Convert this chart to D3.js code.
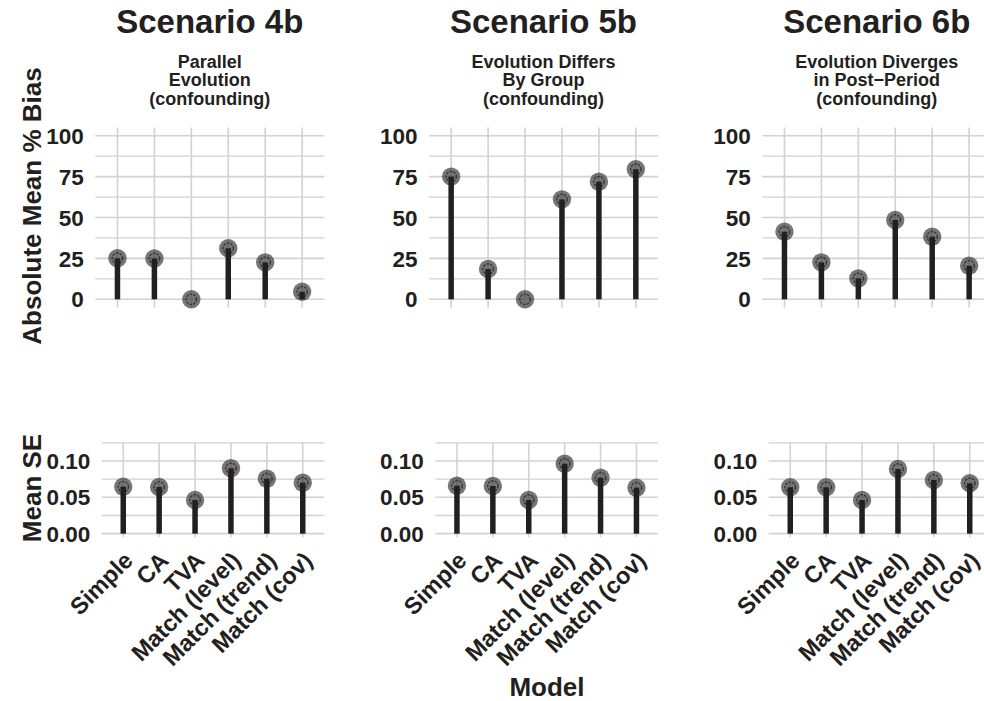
<!DOCTYPE html>
<html>
<head>
<meta charset="utf-8">
<script src="https://cdn.jsdelivr.net/npm/d3@7"></script>
<style>
body { margin: 0; background: #fff; }
svg { display: block; font-family: "Liberation Sans", Arial, Helvetica, sans-serif; font-weight: bold; }
</style>
</head>
<body>
<svg id="chart" width="984" height="701"></svg>
<script>
// models on the x axis
var models = ["Simple", "CA", "TVA", "Match (level)", "Match (trend)", "Match (cov)"];
var scenarios = ["Scenario 4b", "Scenario 5b", "Scenario 6b"];
var subtitles = [
	["Parallel", "Evolution", "(confounding)"],
	["Evolution Differs", "By Group", "(confounding)"],
	["Evolution Diverges", "in Post\u2212Period", "(confounding)"]
];

// absolute mean % bias, one array per scenario
var bias4b = [25.1, 25.0, 0, 31.2, 22.6, 4.6];
var bias5b = [75.0, 18.5, 0, 61.1, 71.9, 79.5];
var bias6b = [41.3, 22.6, 12.8, 48.5, 38.3, 20.5];

// mean SE
var se4b = [0.0647, 0.0642, 0.0464, 0.0900, 0.0757, 0.0702];
var se5b = [0.0660, 0.0656, 0.0464, 0.0963, 0.0770, 0.0633];
var se6b = [0.0638, 0.0638, 0.0464, 0.0890, 0.0739, 0.0693];

var biasTicks = [0, 25, 50, 75, 100];
var biasMinor = [12.5, 37.5, 62.5, 87.5];
var seTicks = [0, 0.05, 0.10];
var seMinor = [0.025, 0.075, 0.125];

var biasData = [bias4b, bias5b, bias6b];
var seData = [se4b, se5b, se6b];

var svg = d3.select("#chart");
var textCol = "#231f20";
var gridCol = "#d2d2d2";

// column layout (left edge of top panels)
var colLeft = [95.3, 429, 762.3];
var panelW = 229;

function drawPanel(left, right, yDomain, yRange, values, ticks, minor, fmt){
	var g = svg.append("g");
	var x = d3.scalePoint().domain(models).range([left, right]).padding(0.6);
	var y = d3.scaleLinear().domain(yDomain).range(yRange);

	// minor + major gridlines
	g.selectAll(".minor").data(minor).enter().append("line")
		.attr("x1", left).attr("x2", right)
		.attr("y1", function(d){ return y(d); }).attr("y2", function(d){ return y(d); })
		.attr("stroke", gridCol).attr("stroke-width", 1.3);
	g.selectAll(".major").data(ticks).enter().append("line")
		.attr("x1", left).attr("x2", right)
		.attr("y1", function(d){ return y(d); }).attr("y2", function(d){ return y(d); })
		.attr("stroke", gridCol).attr("stroke-width", 1.6);
	g.selectAll(".vgrid").data(models).enter().append("line")
		.attr("x1", function(d){ return x(d); }).attr("x2", function(d){ return x(d); })
		.attr("y1", yRange[1]).attr("y2", yRange[0])
		.attr("stroke", gridCol).attr("stroke-width", 1.6);

	// y tick labels
	g.selectAll(".ytick").data(ticks).enter().append("text")
		.attr("x", left - 11.5)
		.attr("y", function(d){ return y(d); })
		.attr("dy", "0.36em")
		.attr("text-anchor", "end")
		.attr("font-size", 22.5)
		.attr("fill", textCol)
		.text(fmt);

	// points (gray, semi transparent) then bars on top
	var pts = g.selectAll(".pt").data(values).enter().append("g");
	pts.append("circle")
		.attr("cx", function(d, i){ return x(models[i]); })
		.attr("cy", function(d){ return y(d); })
		.attr("r", 9.2)
		.attr("fill", "#3c3c3c").attr("fill-opacity", 0.7);
	pts.append("circle")
		.attr("cx", function(d, i){ return x(models[i]); })
		.attr("cy", function(d){ return y(d); })
		.attr("r", 5.2)
		.attr("fill", "none").attr("stroke", "#222").attr("stroke-width", 1.4)
		.attr("stroke-dasharray", "2.5,1.2").attr("stroke-opacity", 0.75);

	g.selectAll(".bar").data(values).enter().append("line")
		.attr("x1", function(d, i){ return x(models[i]); })
		.attr("x2", function(d, i){ return x(models[i]); })
		.attr("y1", y(0))
		.attr("y2", function(d){ return y(d); })
		.attr("stroke", textCol).attr("stroke-width", 5.5);

	return x;
}

for(var c=0;c<3;c++){
	var left = colLeft[c];
	var right = left + panelW;

	// scenario title
	svg.append("text")
		.attr("x", (left + right) / 2).attr("y", 33)
		.attr("text-anchor", "middle")
		.attr("font-size", 33).attr("fill", textCol)
		.text(scenarios[c]);
	// subtitle lines
	for(var l=0;l<subtitles[c].length;l++){
		svg.append("text")
			.attr("x", (left + right) / 2).attr("y", 68 + l*18.3)
			.attr("text-anchor", "middle")
			.attr("font-size", 18).attr("fill", textCol)
			.text(subtitles[c][l]);
	}

	drawPanel(left, right, [-5, 105], [307.5, 127.5], biasData[c], biasTicks, biasMinor, function(d){ return d; });
	var xb = drawPanel(left + 6.4, right, [-0.005, 0.125], [537.3, 442.8], seData[c], seTicks, seMinor, d3.format(".2f"));

	// rotated model labels
	svg.append("g").selectAll("text").data(models).enter().append("text")
		.attr("transform", function(d){ return "translate(" + (xb(d) - 1) + ",550) rotate(-45)"; })
		.attr("dy", "0.72em")
		.attr("text-anchor", "end")
		.attr("font-size", 23.5).attr("fill", textCol)
		.text(function(d){ return d; });
}

// axis titles
svg.append("text")
	.attr("transform", "translate(41,206) rotate(-90)")
	.attr("text-anchor", "middle")
	.attr("font-size", 26).attr("fill", textCol)
	.text("Absolute Mean % Bias");
svg.append("text")
	.attr("transform", "translate(41,488) rotate(-90)")
	.attr("text-anchor", "middle")
	.attr("font-size", 26).attr("fill", textCol)
	.text("Mean SE");
svg.append("text")
	.attr("x", 547).attr("y", 696)
	.attr("text-anchor", "middle")
	.attr("font-size", 26).attr("fill", textCol)
	.text("Model");
</script>
</body>
</html>
